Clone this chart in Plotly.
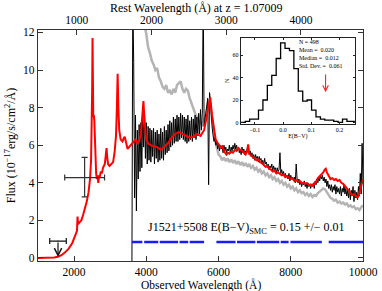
import plotly.graph_objects as go

Z = 1.07009

# ---- red model spectrum (observed wavelength, flux) ----
RED_WL = [1000, 1200, 1350, 1450, 1550, 1650, 1750, 1850, 1950, 2030, 2080, 2095, 2110, 2150,
          2200, 2250, 2300, 2350, 2400, 2440, 2470, 2490, 2500, 2510, 2520, 2530, 2545, 2560,
          2575, 2590, 2610, 2630, 2650, 2670, 2690, 2710, 2740, 2770, 2800, 2850, 2880, 2898,
          2915, 2940, 2980, 3030, 3080, 3120, 3160, 3185, 3205, 3225, 3250, 3290, 3340, 3380,
          3400, 3420, 3450, 3480, 3520, 3560, 3600, 3650, 3700, 3750, 3800, 3850, 3880, 3900,
          3920, 3940, 3960, 3990, 4050, 4120, 4200, 4300, 4400, 4500, 4600, 4700, 4800, 4900,
          5000, 5100, 5200, 5300, 5400, 5500, 5600, 5650, 5720, 5770, 5820, 5870, 5920, 5980,
          6020, 6060, 6100, 6140, 6180, 6220, 6260, 6300, 6350, 6400, 6450, 6500, 6550, 6600,
          6650, 6700, 6750, 6790, 6820, 6850, 6900, 6950, 7000, 7050, 7100, 7150, 7200, 7250,
          7300, 7350, 7400, 7450, 7500, 7550, 7600, 7650, 7700, 7750, 7800, 7850, 7900, 7950,
          8000, 8050, 8100, 8150, 8200, 8250, 8300, 8350, 8400, 8450, 8500, 8550, 8600, 8650,
          8700, 8750, 8800, 8850, 8900, 8940, 8970, 9000, 9050, 9100, 9150, 9200, 9250, 9300,
          9350, 9400, 9450, 9500, 9550, 9600, 9650, 9700, 9750, 9800, 9840, 9880, 9920, 9960,
          10000]
RED_FLUX = [0.0, 0.0, 0.01, 0.03, 0.07, 0.15, 0.3, 0.5, 0.8, 1.15, 1.45, 2.2, 1.8, 1.9,
            2.0, 2.3, 2.6, 3.0, 3.5, 4.2, 5.2, 7.0, 9.0, 11.7, 10.5, 7.5, 7.6, 7.3,
            6.0, 5.0, 4.5, 4.2, 4.4, 4.0, 4.4, 4.3, 4.6, 4.5, 4.8, 5.0, 5.5, 5.85,
            5.4, 5.0, 4.9, 5.0, 5.1, 5.6, 6.5, 8.0, 9.8, 8.0, 6.8, 6.3, 6.2, 6.4,
            6.45, 6.3, 6.0, 5.8, 5.9, 6.0, 6.1, 6.2, 6.3, 6.1, 6.2, 6.6, 7.2, 7.8,
            8.35, 7.6, 6.9, 6.4, 6.1, 6.0, 5.95, 5.9, 5.75, 5.9, 6.1, 6.4, 6.6, 6.7,
            6.6, 6.5, 6.4, 6.45, 6.6, 6.5, 6.8, 7.3, 8.0, 8.55, 7.6, 6.8, 6.3, 6.1,
            6.0, 5.9, 5.95, 5.75, 5.6, 5.5, 5.6, 5.55, 5.65, 5.6, 5.75, 5.7, 5.85, 5.75,
            5.7, 5.6, 5.5, 5.65, 6.05, 5.55, 5.45, 5.35, 5.3, 5.2, 5.25, 5.1, 5.05, 4.95,
            4.85, 4.9, 4.75, 4.7, 4.6, 4.65, 4.5, 4.55, 4.45, 4.4, 4.45, 4.3, 4.35, 4.25,
            4.2, 4.25, 4.1, 4.15, 4.05, 4.1, 3.98, 4.0, 3.95, 3.98, 3.88, 3.92, 3.85, 3.95,
            4.05, 4.25, 4.35, 4.45, 4.55, 4.7, 4.75, 4.55, 4.35, 4.2, 4.25, 4.15, 4.2, 4.1,
            4.15, 4.0, 3.95, 3.85, 3.75, 3.6, 3.45, 3.35, 3.4, 3.3, 3.22, 3.3, 3.55, 3.9,
            4.2]

# ---- black observed spectrum, regular grid ----
BLACK_START, BLACK_STEP = 3600, 25
BLACK_FLUX = [
    -1.0, 14.0, 10.4, 3.2, 7.6, 2.5, 6.8, 4.2, 7.1, 4.6,
    7.2, 4.8, 7.9, 5.9, 7.8, 5.3, 7.2, 5.0, 7.0, 5.2,
    6.9, 5.1, 6.8, 5.4, 6.9, 5.0, 6.7, 5.3, 6.8, 5.1,
    6.6, 5.2, 6.9, 5.3, 6.7, 5.2, 7.0, 5.5, 6.8, 5.6,
    7.1, 5.7, 7.3, 5.9, 7.2, 6.0, 7.5, 6.1, 7.4, 6.2,
    7.6, 6.2, 7.5, 6.3, 7.7, 6.4, 7.6, 6.3, 7.5, 6.2,
    7.4, 6.1, 7.6, 6.2, 7.3, 6.3, 7.5, 6.2, 7.4, 6.4,
    7.6, 6.3, 7.5, 6.5, 7.7, 6.6, 7.9, 6.8, 7.7, 14.0,
    7.0, 7.4, 7.8, 8.2, 8.5, 3.9, 8.8, 8.4, 7.5, 6.9,
    6.5, 6.2, 6.4, 6.0, 6.2, 5.8, 6.1, 5.7, 6.0, 5.8,
    5.9, 5.6, 6.0, 5.7, 5.9, 5.6, 5.8, 5.7, 6.0, 5.6,
    5.9, 5.7, 6.0, 5.8, 6.1, 5.8, 6.0, 5.7, 5.9, 5.6,
    5.8, 5.5, 5.9, 5.6, 5.8, 5.5, 5.7, 5.6, 5.9, 5.7,
    5.5, 5.7, 5.4, 5.6, 5.3, 5.5, 5.2, 5.5, 5.3, 5.4,
    5.1, 5.4, 5.2, 5.3, 5.0, 5.2, 4.9, 5.3, 5.0, 5.1,
    4.8, 5.0, 4.7, 4.9, 4.8, 5.0, 4.6, 4.9, 4.7, 4.8,
    4.5, 4.8, 4.6, 4.7, 5.6, 4.5, 4.7, 4.4, 4.6, 4.3,
    4.5, 4.3, 4.4, 4.2, 4.5, 4.1, 4.4, 4.2, 4.3, 4.1,
    4.3, 4.0, 5.0, 4.2, 4.0, 4.2, 3.9, 4.1, 3.8, 4.0,
    3.9, 4.1, 3.8, 4.0, 3.7, 4.0, 3.8, 3.9, 3.7, 3.9,
    3.8, 4.0, 3.7, 4.1, 3.9, 4.2, 4.0, 4.3, 4.1, 4.4,
    4.2, 4.4, 4.1, 4.3, 4.0, 4.2, 3.8, 4.1, 3.7, 3.9,
    3.6, 3.9, 3.5, 3.8, 3.6, 3.9, 3.4, 3.8, 3.5, 3.7,
    3.4, 3.8, 3.3, 3.7, 3.5, 3.9, 3.4, 3.7, 3.3, 3.6,
    3.2, 3.7, 3.1, 3.6, 3.3, 3.8, 3.0, 3.6, 3.2, 3.5,
    3.1, 3.8, 3.3, 4.5, 3.4, 6.1, 4.0]

# ---- gray comparison spectrum, regular grid ----
GRAY_START, GRAY_STEP = 3800, 50
GRAY_FLUX = [
    14.5, 13.8, 13.0, 12.4, 11.9, 11.2, 10.9, 10.5, 10.3, 10.0,
    10.1, 9.6, 9.4, 9.1, 9.0, 9.2, 8.8, 8.9, 8.7, 9.0,
    8.8, 9.2, 9.3, 9.4, 9.0, 8.8, 9.0, 8.9, 8.5, 8.2,
    8.0, 7.7, 7.5, 7.3, 7.2, 7.1, 7.4, 7.6, 8.1, 8.4,
    7.6, 6.8, 6.3, 5.9, 5.5,
    5.4, 5.2, 5.35, 5.15, 5.3, 5.1, 5.25, 5.05, 5.2, 5.0,
    5.15, 4.95, 5.1, 4.9, 5.05, 4.85, 5.0, 4.8, 4.9, 4.7,
    4.8, 4.6, 4.7, 4.5, 4.6, 4.4, 4.5, 4.3, 4.4, 4.2,
    4.3, 4.1, 4.2, 4.0, 4.1, 3.9, 4.0, 3.8, 3.9, 3.7,
    3.8, 3.6, 3.7, 3.5, 3.6, 3.45, 3.5, 3.35, 3.45, 3.3,
    3.4, 3.25, 3.35, 3.3, 3.45, 3.55, 3.6, 3.7, 3.65, 3.5,
    3.3, 3.2, 3.15, 3.05, 3.1, 2.95, 3.0, 2.9, 2.95, 2.85,
    2.9, 2.75, 2.8, 2.7, 2.75, 2.6, 2.65, 2.55, 2.7, 2.8]

# ---- continuum windows (blue) ----
WIN_START = [3600, 3940, 4370, 4920, 5200, 5940, 6510, 7060, 7720, 7990, 9050]
WIN_END = [3890, 4330, 4880, 5160, 5600, 6470, 7020, 7680, 7940, 8860, 10000]
WIN_LEVEL = 0.85

# ---- photometry ----
PHOT_WL, PHOT_FLUX = [2291], [4.28]
PHOT_WL_ERR = [552]
PHOT_FLUX_ERR_UP, PHOT_FLUX_ERR_DN = [1.07], [1.03]
LIM_WL, LIM_FLUX, LIM_WL_ERR, LIM_TIP = 1554, 0.9, 230, 0.05

# ---- inset histogram of E(B-V) ----
HIST_START, HIST_BIN = -0.15, 0.0157
HIST_COUNTS = [0, 1, 3, 3, 11, 20, 33, 42, 57, 71, 66, 64, 48, 28, 19, 20, 11, 5,
               3, 2, 2, 1, 0, 3, 1, 1]
ARROW_EBV = 0.151

black_wl = [BLACK_START + BLACK_STEP * i for i in range(len(BLACK_FLUX))]
gray_wl = [GRAY_START + GRAY_STEP * i for i in range(len(GRAY_FLUX))]
win_x, win_y = [], []
for s, e in zip(WIN_START, WIN_END):
    win_x += [s, e, None]
    win_y += [WIN_LEVEL, WIN_LEVEL, None]
hist_x = [HIST_START + HIST_BIN * i for i in range(len(HIST_COUNTS) + 1)]
hist_y = HIST_COUNTS + [HIST_COUNTS[-1]]

FONT = "Liberation Serif"
fig = go.Figure()
fig.add_trace(go.Scatter(x=gray_wl, y=GRAY_FLUX, mode="lines",
                         line=dict(color="#b4b4b4", width=2.5), hoverinfo="skip"))
fig.add_trace(go.Scatter(x=black_wl, y=BLACK_FLUX, mode="lines",
                         line=dict(color="black", width=1), hoverinfo="skip"))
fig.add_trace(go.Scatter(x=RED_WL, y=RED_FLUX, mode="lines",
                         line=dict(color="#ff0000", width=2), hoverinfo="skip"))
fig.add_trace(go.Scatter(x=win_x, y=win_y, mode="lines",
                         line=dict(color="#1a1aff", width=2.5), hoverinfo="skip"))
fig.add_trace(go.Scatter(x=PHOT_WL, y=PHOT_FLUX, mode="markers", marker=dict(size=1, color="#333"),
                         error_x=dict(type="data", array=PHOT_WL_ERR, color="#333", thickness=1.2, width=3),
                         error_y=dict(type="data", array=PHOT_FLUX_ERR_UP, arrayminus=PHOT_FLUX_ERR_DN,
                                      color="#333", thickness=1.2, width=3), hoverinfo="skip"))
fig.add_trace(go.Scatter(x=[LIM_WL], y=[LIM_FLUX], mode="markers", marker=dict(size=1, color="#111"),
                         error_x=dict(type="data", array=[LIM_WL_ERR], color="#111", thickness=1.2, width=3),
                         hoverinfo="skip"))
# invisible trace to activate the rest-frame axis
fig.add_trace(go.Scatter(x=[w / (1 + Z) for w in RED_WL], y=RED_FLUX, xaxis="x2", yaxis="y",
                         mode="lines", line=dict(width=0), opacity=0, hoverinfo="skip"))
# inset histogram
fig.add_trace(go.Scatter(x=hist_x, y=hist_y, xaxis="x3", yaxis="y3", mode="lines",
                         line=dict(color="black", width=1.3, shape="hv"), hoverinfo="skip"))

tick_common = dict(ticks="inside", showgrid=False, zeroline=False, showline=True,
                   linecolor="#333", linewidth=1.2, tickcolor="#333", tickformat="d",
                   tickfont=dict(size=11.5))
fig.update_layout(
    width=382, height=291, margin=dict(l=38, r=19, t=30, b=30, autoexpand=False),
    paper_bgcolor="white", plot_bgcolor="white", showlegend=False, hovermode=False,
    font=dict(family=FONT, size=12, color="black"),
    xaxis=dict(range=[1000, 10000], tickvals=[2000, 4000, 6000, 8000, 10000], ticklen=5,
               mirror=True, **tick_common),
    xaxis2=dict(overlaying="x", side="top", anchor="y", range=[1000 / (1 + Z), 10000 / (1 + Z)],
                tickvals=[1000, 2000, 3000, 4000], ticklen=5, **tick_common),
    yaxis=dict(range=[-0.16, 12.13], tickvals=[0, 2, 4, 6, 8, 10, 12], ticklen=5,
               mirror="ticks", **tick_common),
    xaxis3=dict(domain=[0.624, 0.975], anchor="y3", range=[-0.15, 0.255],
                tickvals=[-0.1, 0, 0.1, 0.2], ticktext=["\u22120.1", "0.0", "0.1", "0.2"],
                ticklen=2, mirror="ticks", tickfont=dict(size=6),
                title=dict(text="E(B\u2212V)", font=dict(size=6), standoff=0),
                ticks="inside", showgrid=False, zeroline=False, showline=True,
                linecolor="#222", linewidth=1, tickcolor="#222"),
    yaxis3=dict(domain=[0.593, 0.967], anchor="x3", range=[-1.4, 75.6],
                tickvals=[0, 20, 40, 60], ticklen=2, mirror="ticks", tickfont=dict(size=6),
                title=dict(text="N", font=dict(size=6), standoff=2),
                ticks="inside", showgrid=False, zeroline=False, showline=True,
                linecolor="#222", linewidth=1, tickcolor="#222"),
)

ann = [
    dict(text="Rest Wavelength (Å) at z = 1.07009", xref="paper", yref="paper", x=0.488, y=1.095,
         showarrow=False, xanchor="center", yanchor="middle", font=dict(size=12)),
    dict(text="Observed Wavelength (Å)", xref="paper", yref="paper", x=0.5, y=-0.105,
         showarrow=False, xanchor="center", yanchor="middle", font=dict(size=11.5)),
    dict(text="Flux (10<sup>\u221217</sup>erg/s/cm<sup>2</sup>/Å)", xref="paper", yref="paper",
         x=-0.084, y=0.5, textangle=-90, showarrow=False, xanchor="center", yanchor="middle",
         font=dict(size=12)),
    dict(text="J1521+5508 E(B\u2212V)<sub>SMC</sub> = 0.15 +/\u2212 0.01", xref="x", yref="y",
         x=3990, y=1.62, showarrow=False, xanchor="left", yanchor="middle", font=dict(size=12)),
    dict(x=LIM_WL, y=LIM_TIP, ax=LIM_WL, ay=LIM_FLUX, xref="x", yref="y", axref="x", ayref="y",
         showarrow=True, arrowhead=5, arrowsize=1.2, arrowwidth=1.2, arrowcolor="#111", text=""),
    dict(x=ARROW_EBV, y=27, ax=ARROW_EBV, ay=44, xref="x3", yref="y3", axref="x3", ayref="y3",
         showarrow=True, arrowhead=5, arrowsize=1, arrowwidth=1.1, arrowcolor="#ff2020", text=""),
]
for i, t in enumerate(["N = 498", "Mean =  0.020", "Median =  0.012", "Std. Dev. =  0.061"]):
    ann.append(dict(text=t, xref="x3", yref="y3", x=0.051, y=[71.7, 65, 57.5, 50.2][i],
                    showarrow=False, xanchor="left", yanchor="middle", font=dict(size=6)))
fig.update_layout(annotations=ann)

# remove the default page margin so the figure sits at the window's top-left corner
fig.write_html("out.html", config={"displayModeBar": False, "staticPlot": True},
               post_script="document.body.style.margin='0px';")
